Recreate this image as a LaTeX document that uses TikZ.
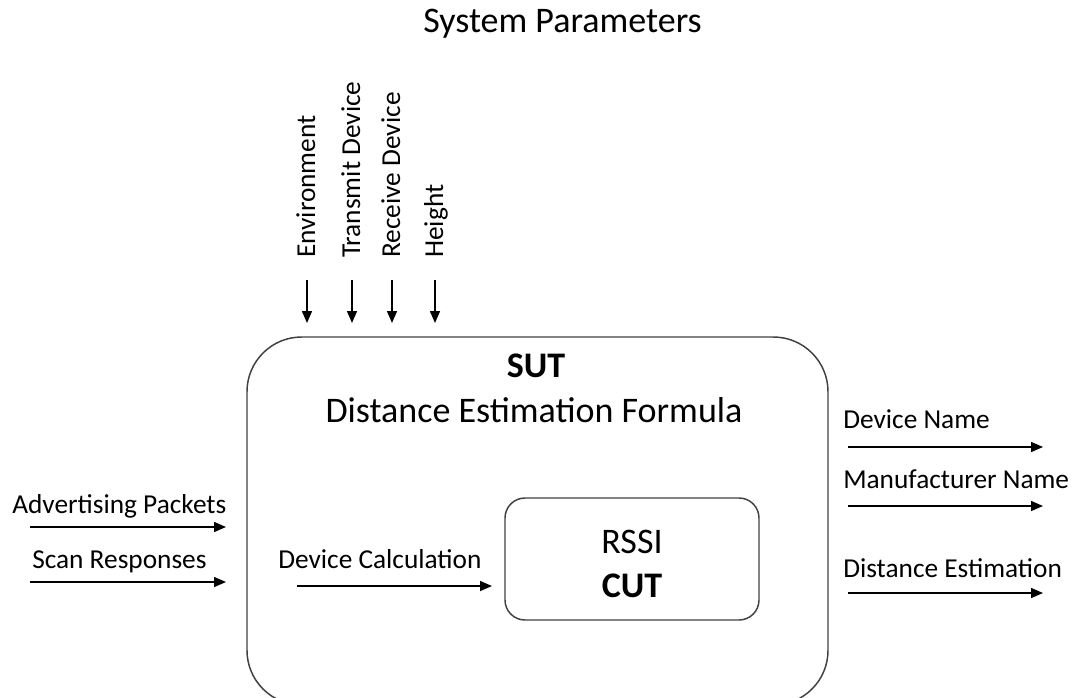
\documentclass[tikz,border=0pt]{standalone}
\usepackage{fontspec}
\setmainfont{Carlito}
\usetikzlibrary{arrows.meta}

\begin{document}
\begin{tikzpicture}[x=0.75pt,y=-0.75pt,
  lbl/.style={font=\fontsize{20.5}{24}\selectfont, inner sep=0pt, anchor=base west},
  big/.style={font=\fontsize{27}{32}\selectfont, inner sep=0pt, anchor=base},
  bigbf/.style={big, font=\fontsize{27}{32}\selectfont\bfseries},
  flow/.style={-{Triangle[length=9pt,width=7.5pt]}, line width=1.1pt},
  sysbox/.style={draw=black!75, line width=1.1pt, rounded corners=41pt,
    minimum width=435.75pt, minimum height=276pt, inner sep=0pt},
  cutbox/.style={draw=black!75, line width=1.1pt, rounded corners=15pt,
    minimum width=190.5pt, minimum height=91.5pt, inner sep=0pt}]
\useasboundingbox (0,0) rectangle (1084,697);

\node[big, anchor=base west] (sys) at (423,32) {System Parameters};

% parameters going in from the top
\foreach \name/\x/\txt in {env/315/Environment, tx/360/Transmit Device,
    rx/400/Receive Device, ht/443/Height} {
  \node[lbl, rotate=90] (\name) at (\x,258) {\txt};
  \coordinate (\name-s) at (\x-8,280);
  \coordinate (\name-e) at (\x-8,323);
  \draw[flow] (\name-s) -- (\name-e);
}

\node[sysbox] (sut) at (537.5,521) {};
\node[bigbf] (sutlbl) at (536,377) {SUT};
\node[big] (formula) at (534,422) {Distance Estimation Formula};

\node[cutbox] (cut) at (632,559) {};
\node[big] (rssi) at (cut.center |- 0,553) {RSSI};
\node[bigbf] (cutlbl) at (cut.center |- 0,597) {CUT};

\node[lbl] (calc) at (278,568) {Device Calculation};
\coordinate (calc-s) at (297,586);
\coordinate (calc-e) at (492,586);
\draw[flow] (calc-s) -- (calc-e);

% inputs
\node[lbl] (adv) at (12,513) {Advertising Packets};
\coordinate (adv-s) at (30,527);
\coordinate (adv-e) at (226,527);
\draw[flow] (adv-s) -- (adv-e);
\node[lbl] (scan) at (32,568) {Scan Responses};
\coordinate (scan-s) at (30,582);
\coordinate (scan-e) at (226,582);
\draw[flow] (scan-s) -- (scan-e);

% outputs
\node[lbl] (dname) at (843,428) {Device Name};
\coordinate (dname-s) at (848,447);
\coordinate (dname-e) at (1043,447);
\draw[flow] (dname-s) -- (dname-e);
\node[lbl] (mname) at (843,488) {Manufacturer Name};
\coordinate (mname-s) at (848,506);
\coordinate (mname-e) at (1043,506);
\draw[flow] (mname-s) -- (mname-e);
\node[lbl] (dist) at (843,577) {Distance Estimation};
\coordinate (dist-s) at (848,593);
\coordinate (dist-e) at (1043,593);
\draw[flow] (dist-s) -- (dist-e);
\end{tikzpicture}
\end{document}
